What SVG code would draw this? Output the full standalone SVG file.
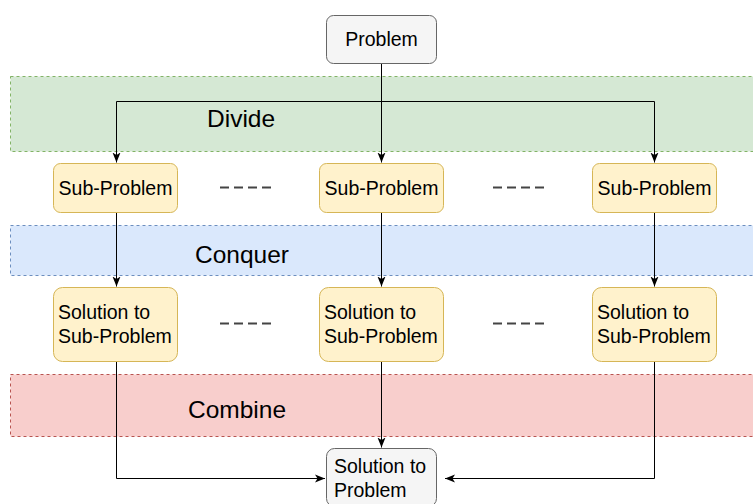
<svg xmlns="http://www.w3.org/2000/svg" width="753" height="504" viewBox="0 0 753 504">
  <style>
    .band { stroke-width: 1; stroke-dasharray: 3 3; }
    .divide { fill: #d5e8d4; stroke: #82b366; }
    .conquer { fill: #dae8fc; stroke: #6c8ebf; }
    .combine { fill: #f8cecc; stroke: #b85450; }
    .band-label { font-family: "Liberation Sans", Arial, sans-serif; font-size: 24.5px; fill: #000; }
    .grey { fill: #f5f5f5; stroke: #666666; stroke-width: 1; }
    .yellow { fill: #fff2cc; stroke: #d6b656; stroke-width: 1; }
    .label { font-family: "Liberation Sans", Arial, sans-serif; font-size: 19.5px; fill: #000; }
    .mid { text-anchor: middle; }
    .edge { fill: none; stroke: #000; stroke-width: 1; }
    .ellipsis { stroke: #444; stroke-width: 2; stroke-dasharray: 9 5; }
  </style>
  <defs>
    <marker id="arrow" viewBox="0 0 10 10" refX="10" refY="5" markerWidth="10" markerHeight="10" markerUnits="userSpaceOnUse" orient="auto">
      <path d="M0,1 L10,5 L0,9 L2.5,5 Z" fill="#000"/>
    </marker>
  </defs>

  <!-- phase bands -->
  <g id="band-divide">
    <rect class="band divide" x="10.5" y="76.5" width="760" height="75"/>
    <text class="band-label" x="207" y="127">Divide</text>
  </g>
  <g id="band-conquer">
    <rect class="band conquer" x="10.5" y="225.5" width="760" height="50"/>
    <text class="band-label" x="195" y="263">Conquer</text>
  </g>
  <g id="band-combine">
    <rect class="band combine" x="10.5" y="374.5" width="760" height="62"/>
    <text class="band-label" x="188" y="418">Combine</text>
  </g>

  <!-- connectors -->
  <g id="connectors">
    <path class="edge" d="M381.5,64 V162.5" marker-end="url(#arrow)"/>
    <path class="edge" d="M381.5,101.5 H116.5 V162.5" marker-end="url(#arrow)"/>
    <path class="edge" d="M381.5,101.5 H654.5 V162.5" marker-end="url(#arrow)"/>
    <path class="edge" d="M116.5,213 V286.5" marker-end="url(#arrow)"/>
    <path class="edge" d="M381.5,213 V286.5" marker-end="url(#arrow)"/>
    <path class="edge" d="M654.5,213 V286.5" marker-end="url(#arrow)"/>
    <path class="edge" d="M381.5,362 V447.5" marker-end="url(#arrow)"/>
    <path class="edge" d="M116.5,362 V478.5 H325" marker-end="url(#arrow)"/>
    <path class="edge" d="M654.5,362 V478.5 H445" marker-end="url(#arrow)"/>
  </g>

  <!-- ellipses between sibling nodes -->
  <g id="ellipses">
    <line class="ellipsis" x1="220" y1="187.5" x2="271" y2="187.5"/>
    <line class="ellipsis" x1="493" y1="187.5" x2="544" y2="187.5"/>
    <line class="ellipsis" x1="220" y1="323.5" x2="271" y2="323.5"/>
    <line class="ellipsis" x1="493" y1="323.5" x2="544" y2="323.5"/>
  </g>

  <!-- nodes -->
  <g id="problem">
    <rect class="grey" x="326.5" y="15.5" width="110" height="48" rx="7"/>
    <text class="label mid" x="381.5" y="46">Problem</text>
  </g>

  <g id="sub-problem-1">
    <rect class="yellow" x="53.5" y="163.5" width="124" height="49" rx="7"/>
    <text class="label mid" x="115.5" y="195">Sub-Problem</text>
  </g>
  <g id="sub-problem-2">
    <rect class="yellow" x="319.5" y="163.5" width="124" height="49" rx="7"/>
    <text class="label mid" x="381.5" y="195">Sub-Problem</text>
  </g>
  <g id="sub-problem-3">
    <rect class="yellow" x="592.5" y="163.5" width="124" height="49" rx="7"/>
    <text class="label mid" x="654.5" y="195">Sub-Problem</text>
  </g>

  <g id="solution-1">
    <rect class="yellow" x="53.5" y="287.5" width="124" height="74" rx="9"/>
    <text class="label" x="58" y="319">Solution to</text>
    <text class="label" x="58" y="343">Sub-Problem</text>
  </g>
  <g id="solution-2">
    <rect class="yellow" x="319.5" y="287.5" width="124" height="74" rx="9"/>
    <text class="label" x="324" y="319">Solution to</text>
    <text class="label" x="324" y="343">Sub-Problem</text>
  </g>
  <g id="solution-3">
    <rect class="yellow" x="592.5" y="287.5" width="124" height="74" rx="9"/>
    <text class="label" x="597" y="319">Solution to</text>
    <text class="label" x="597" y="343">Sub-Problem</text>
  </g>

  <g id="final-solution">
    <rect class="grey" x="326.5" y="448.5" width="110" height="58" rx="8"/>
    <text class="label" x="334" y="473">Solution to</text>
    <text class="label" x="334" y="497">Problem</text>
  </g>
</svg>
